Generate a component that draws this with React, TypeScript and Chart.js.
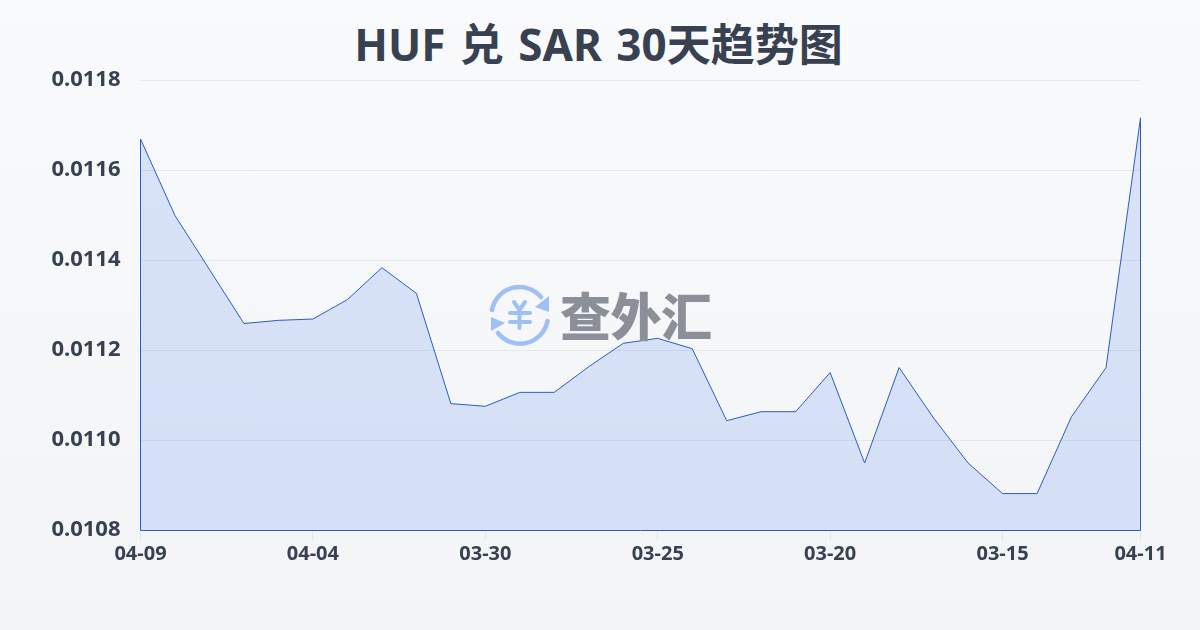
import { useEffect, useRef } from 'react'
import { Chart, registerables, type ChartConfiguration, type Plugin } from 'chart.js'

Chart.register(...registerables)

const TITLE = 'HUF 兑 SAR 30天趋势图'
const FONT = '"Noto Sans", "Noto Sans CJK SC", sans-serif'

const dates = [
  '04-09', '04-08', '04-07', '04-06', '04-05', '04-04', '04-03', '04-02', '04-01', '03-31',
  '03-30', '03-29', '03-28', '03-27', '03-26', '03-25', '03-24', '03-23', '03-22', '03-21',
  '03-20', '03-19', '03-18', '03-17', '03-16', '03-15', '03-14', '03-13', '03-12', '04-11',
]
const rates = [
  0.01167, 0.0115, 0.01138, 0.01126, 0.011267, 0.01127, 0.011313, 0.011384, 0.011327, 0.011082,
  0.011076, 0.011107, 0.011107, 0.011164, 0.011216, 0.011227, 0.011204, 0.011044, 0.011064, 0.011064,
  0.011151, 0.01095, 0.011162, 0.01105, 0.01095, 0.010882, 0.010882, 0.011053, 0.011162, 0.011717,
]
const shownDates = ['04-09', '04-04', '03-30', '03-25', '03-20', '03-15', '04-11']

const LINE = '#2a5cc4'
const INK = '#374151'

// the source closes the area with the same stroke on the sides and the bottom
const closeArea: Plugin<'line'> = {
  id: 'closeArea',
  afterDatasetsDraw(chart) {
    const { ctx, scales } = chart
    const base = scales.y.getPixelForValue(0.0108)
    const last = rates.length - 1
    ctx.save()
    ctx.strokeStyle = LINE
    ctx.lineWidth = 1
    ctx.beginPath()
    ctx.moveTo(scales.x.getPixelForValue(0), scales.y.getPixelForValue(rates[0]))
    ctx.lineTo(scales.x.getPixelForValue(0), base)
    ctx.lineTo(scales.x.getPixelForValue(last), base)
    ctx.lineTo(scales.x.getPixelForValue(last), scales.y.getPixelForValue(rates[last]))
    ctx.stroke()
    ctx.restore()
  },
}

function Watermark() {
  return (
    <div style={{ position: 'absolute', left: 489, top: 284, display: 'flex', alignItems: 'center', pointerEvents: 'none' }}>
      <svg width="62" height="62" viewBox="0 0 62 62" fill="none" stroke="#9dc0f7" strokeWidth="4.5" strokeLinecap="round" strokeLinejoin="round">
        <path d="M3 26 A 28 28 0 0 1 52 13" />
        <path d="M58.5 37 A 28 28 0 0 1 9 49" />
        <path d="M60 12 L60 28 L46 23 Z" fill="#9dc0f7" stroke="none" />
        <path d="M2 33 L2 47 L16 39 Z" fill="#9dc0f7" stroke="none" />
        <path d="M25 18 L30.5 26 L36 18 M21 29 H41 M21 38 H41 M30.5 26 V44" strokeWidth="4" />
      </svg>
      <span style={{ marginLeft: 9, marginTop: -3, fontFamily: '"Noto Sans CJK SC", sans-serif', fontWeight: 900, fontSize: 51, lineHeight: '62px', color: '#8a8f98', letterSpacing: -0.5 }}>查外汇</span>
    </div>
  )
}

export default function App() {
  const ref = useRef<HTMLCanvasElement>(null)

  useEffect(() => {
    if (!ref.current) return
    const config: ChartConfiguration<'line'> = {
      type: 'line',
      data: {
        labels: dates,
        datasets: [{
          data: rates,
          borderColor: LINE,
          borderWidth: 1,
          backgroundColor: 'rgba(37,99,235,0.15)',
          fill: 'start',
          pointRadius: 0,
          tension: 0,
        }],
      },
      options: {
        animation: false,
        responsive: false,
        layout: { padding: { left: 0, right: 59.5, top: 80.5, bottom: 0 } },
        plugins: {
          legend: { display: false },
          tooltip: { enabled: false },
        },
        scales: {
          x: {
            afterBuildTicks: (axis) => {
              axis.ticks = axis.ticks.filter(t => shownDates.includes(dates[t.value]))
            },
            afterFit: (axis) => { axis.height = 99.5 },
            border: { display: false },
            grid: { drawOnChartArea: false, drawTicks: true, tickLength: 10, tickColor: '#e5e7eb' },
            ticks: {
              autoSkip: false,
              maxRotation: 0,
              padding: 2,
              color: INK,
              font: { family: FONT, size: 20, weight: 'bold' },
            },
          },
          y: {
            min: 0.0108,
            max: 0.0118,
            afterFit: (axis) => { axis.width = 140.5 },
            border: { display: false },
            grid: { color: '#e5e7eb', lineWidth: 1, drawTicks: false },
            ticks: {
              stepSize: 0.0002,
              padding: 20,
              labelOffset: -1,
              color: INK,
              font: { family: FONT, size: 22, weight: 'bold' },
              callback: (v) => Number(v).toFixed(4),
            },
          },
        },
      },
      plugins: [closeArea],
    }
    const chart = new Chart(ref.current, config)
    return () => { chart.destroy() }
  }, [])

  return (
    <div style={{ position: 'fixed', inset: 0, width: 1200, height: 630, background: 'linear-gradient(180deg, #f9fafb 0%, #f3f4f6 100%)' }}>
      <div style={{ position: 'absolute', left: -1.5, top: 14, width: 1200, textAlign: 'center', fontFamily: FONT, fontWeight: 700, fontSize: 44, lineHeight: '60px', wordSpacing: 3, color: INK }}>{TITLE}</div>
      <canvas ref={ref} width={1200} height={630} style={{ position: 'absolute', left: 0, top: 0, display: 'block' }} />
      <Watermark />
    </div>
  )
}
